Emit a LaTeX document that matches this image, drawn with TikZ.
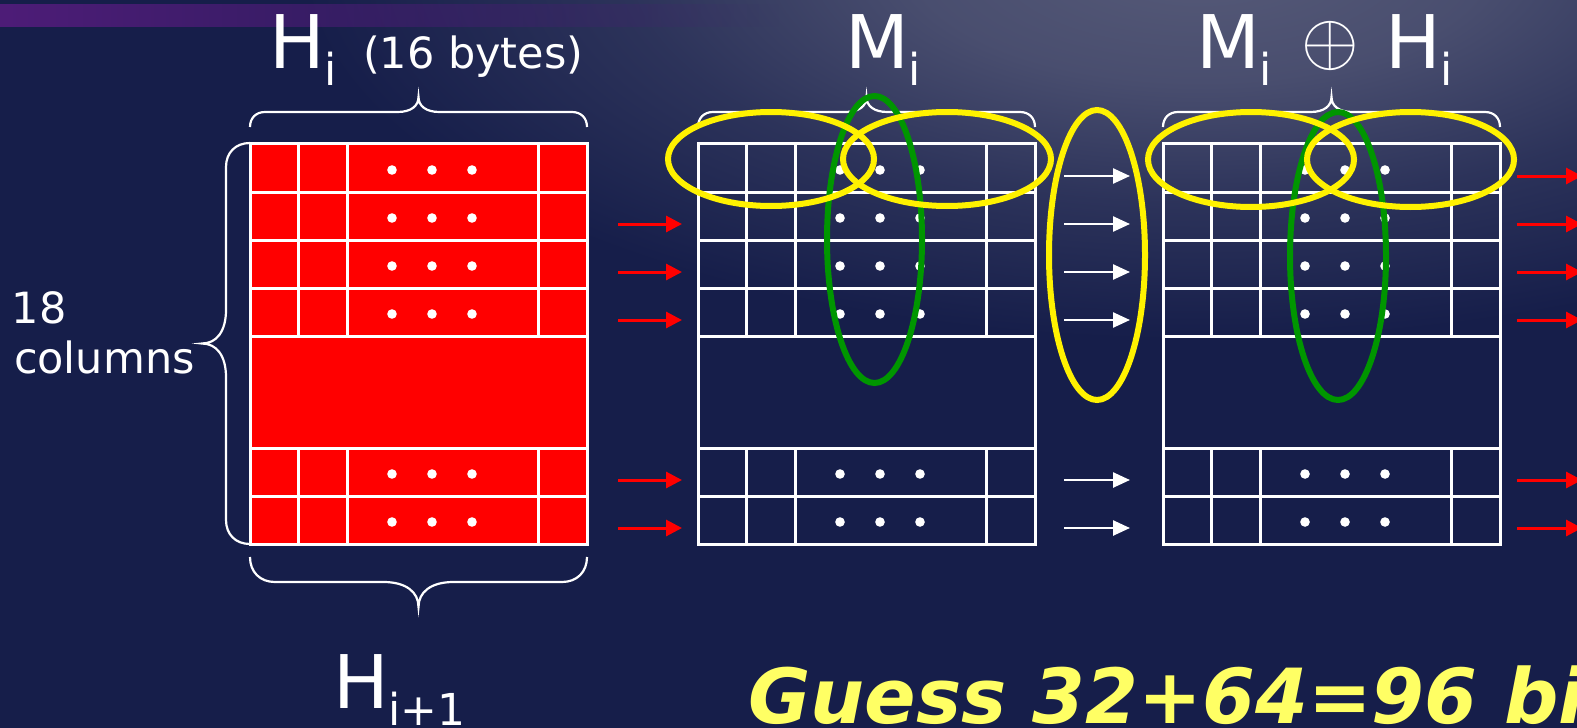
\documentclass[tikz,border=0pt]{standalone}
\usepackage{fontspec}
\setmainfont{DejaVu Sans}
\usepackage{graphicx}
\usetikzlibrary{arrows.meta,calc,fadings}

\definecolor{slidebg}{RGB}{22,30,74}
\definecolor{glow}{RGB}{86,90,120}
\definecolor{bandpurple}{RGB}{78,28,120}
\definecolor{ringgreen}{RGB}{0,150,0}
\definecolor{guessyellow}{RGB}{255,255,100}

\pgfdeclareradialshading{topglow}{\pgfpoint{0bp}{0bp}}{color(0bp)=(glow); color(8bp)=(glow!80!slidebg); color(16bp)=(glow!35!slidebg); color(25bp)=(slidebg); color(50bp)=(slidebg)}
\tikzfading[name=fade to right, left color=transparent!0, right color=transparent!100]

\newcommand\bigsize{\fontsize{74}{80}\selectfont}
\newcommand\subsize{\fontsize{44}{48}\selectfont}
\newcommand\midsize{\fontsize{43}{50}\selectfont}

\tikzset{
  cellline/.style={draw=white, line width=3pt},
  grid frame/.style={draw=white, line width=3pt, minimum width=337pt, minimum height=401pt, inner sep=0pt, outer sep=0pt},
  bracestyle/.style={draw=white, line width=2.2pt},
  redarrow/.style={draw=red, line width=3pt, -{Triangle[length=16pt,width=16pt]}},
  whitearrow/.style={draw=white, line width=2.5pt, -{Triangle[length=17pt,width=15pt]}},
  yellowring/.style={draw=yellow, line width=6pt},
  greenring/.style={draw=ringgreen, line width=6pt},
  lbl/.style={text=white, inner sep=0pt, outer sep=0pt, anchor=base west},
}

% block of 18 rows x 16 bytes: #1 name, #2 left x, #3 fill option
\newcommand\blockgrid[3]{%
  \node[grid frame, #3] (#1) at ({#2+168.5},343.5) {};
  \foreach \r in {49,97,145,193,305,353}
    \draw[cellline] ($(#1.north west)+(0,\r)$) -- ($(#1.north east)+(0,\r)$);
  \foreach \c in {48,97,288}{%
    \draw[cellline] ($(#1.north west)+(\c,0)$) -- ($(#1.north west)+(\c,193)$);
    \draw[cellline] ($(#1.north west)+(\c,305)$) -- ($(#1.north west)+(\c,401)$);}
  \foreach \r in {27,75,123,171,331,379}
    \foreach \c in {142,182,222}
      \fill[white] ($(#1.north west)+(\c,\r)$) circle (4.8pt);
}

% curly brace: #1 start point, #2 rotation, #3 length, #4 depth
\newcommand\ppbrace[4]{%
  \begin{scope}[shift={#1}, rotate=#2]
    \pgfmathsetmacro\hl{#3/2}
    \draw[bracestyle] (0,0) .. controls (0,{-0.6*#4}) and ({0.4*#4},-#4) .. (#4,-#4)
      -- ({\hl-1.4*#4},-#4) .. controls ({\hl-0.5*#4},-#4) and (\hl,{-1.4*#4}) .. (\hl,{-2*#4})
      .. controls (\hl,{-1.4*#4}) and ({\hl+0.5*#4},-#4) .. ({\hl+1.4*#4},-#4)
      -- ({#3-#4},-#4) .. controls ({#3-0.4*#4},-#4) and (#3,{-0.6*#4}) .. (#3,0);
  \end{scope}}

\begin{document}
\begin{tikzpicture}[x=1pt,y=-1pt]
\useasboundingbox (0,0) rectangle (1577,728);
% slide background
\fill[slidebg] (0,0) rectangle (1577,728);
\begin{scope}
  \clip (0,0) rectangle (1577,728);
  \shade[shading=topglow] (1200,-40) ellipse [x radius=900pt, y radius=380pt];
  \fill[bandpurple, path fading=fade to right] (0,4) rectangle (780,27);
\end{scope}

% the three blocks
\blockgrid{H}{250}{fill=red}
\blockgrid{M}{698}{}
\blockgrid{X}{1163}{}

% braces
\ppbrace{(250,127)}{0}{337}{15}
\ppbrace{(698,127)}{0}{337}{15}
\ppbrace{(1163,127)}{0}{337}{15}
\ppbrace{(250,544)}{90}{401}{24}
\ppbrace{(587,557)}{180}{337}{25}

% arrows
\foreach \r in {81,129,177,337,385}
  \draw[redarrow] ($(M.north west)+(-80,\r)$) -- ($(M.north west)+(-16,\r)$);
\foreach \r in {33,81,129,177,337,385}
  \draw[whitearrow] ($(M.north east)+(29,\r)$) -- ($(X.north west)+(-33,\r)$);
\foreach \r in {33,81,129,177,337,385}
  \draw[redarrow] ($(X.north east)+(17,\r)$) -- ($(X.north east)+(82,\r)$);

% rings
\draw[greenring] (874.5,239.5) ellipse [x radius=47.5pt, y radius=143.5pt];
\draw[greenring] (1338,256) ellipse [x radius=48pt, y radius=144pt];
\draw[yellowring] (771,159) ellipse [x radius=103pt, y radius=47pt];
\draw[yellowring] (947,159) ellipse [x radius=104pt, y radius=47pt];
\draw[yellowring] (1097,255) ellipse [x radius=48pt, y radius=145pt];
\draw[yellowring] (1251,159.5) ellipse [x radius=103pt, y radius=47.5pt];
\draw[yellowring] (1410.5,159.5) ellipse [x radius=103.5pt, y radius=47.5pt];

% labels
\node[lbl, font=\bigsize] (hi) at (269,68) {H\raisebox{-17pt}{\subsize i}};
\node[lbl, font=\midsize] (bytes) at (363,68) {(16 bytes)};
\node[lbl, font=\bigsize] (mi) at (845,68) {M\raisebox{-17pt}{\subsize i}};
\node[lbl, font=\bigsize] (mx) at (1196,68) {M\raisebox{-17pt}{\subsize i}};
\node[text=white, inner sep=0pt] (oplus) at (1330,45.5) {\scalebox{7.4}{$\oplus$}};
\node[lbl, font=\bigsize] (hx) at (1385,68) {H\raisebox{-17pt}{\subsize i}};
\node[lbl, font=\midsize] (n18) at (12,323) {18};
\node[lbl, font=\midsize] (cols) at (14,373) {columns};
\node[lbl, font=\bigsize] (hnext) at (333,708) {H\raisebox{-17pt}{\subsize i+1}};
\node[lbl, font=\fontsize{76}{80}\selectfont\bfseries\itshape, text=guessyellow] (guess) at (748,723) {Guess 32+64=96 bi};
\end{tikzpicture}
\end{document}
